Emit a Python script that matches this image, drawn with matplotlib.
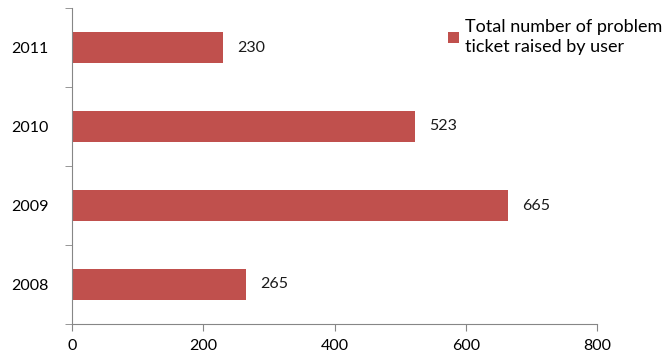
import matplotlib.pyplot as plt

annees = ["2008", "2009", "2010", "2011"]
tickets = [265, 665, 523, 230]
legende = "Total number of problem\nticket raised by user"

plt.rcParams['font.family'] = ['Lato', 'DejaVu Sans']

fig = plt.figure(figsize=(6.69, 3.52), dpi=100)
ax = fig.add_axes([72 / 669, 1 - 324 / 352, 525 / 669, 316 / 352])

barres = ax.barh(range(len(annees)), tickets, height=0.4, color='#C0504D', label=legende)
ax.bar_label(barres, padding=10, fontsize=11.5, color='#1a1a1a')

ax.set_xlim(0, 800)
ax.set_xticks([0, 200, 400, 600, 800])
ax.set_ylim(-0.5, len(annees) - 0.5)
ax.set_yticks(range(len(annees)))
ax.set_yticklabels(annees)
ax.set_yticks([i - 0.5 for i in range(len(annees) + 1)], minor=True)
ax.tick_params(axis='y', which='major', length=0, pad=17, labelsize=11.5)
ax.tick_params(axis='y', which='minor', length=5, color='#868686')
ax.tick_params(axis='x', length=5, color='#868686', labelsize=11.5, pad=6)

for s in ['top', 'right']:
    ax.spines[s].set_visible(False)
for s in ['left', 'bottom']:
    ax.spines[s].set_color('#868686')

leg = fig.legend(loc='upper left', bbox_to_anchor=(441 / 669, 1 - 12 / 352), frameon=False,
                 fontsize=13, handlelength=0.6, handleheight=0.6, handletextpad=0.35,
                 borderaxespad=0)
for t in leg.get_texts():
    t.set_linespacing(1.3)

fig.savefig('out.png', dpi=100)
